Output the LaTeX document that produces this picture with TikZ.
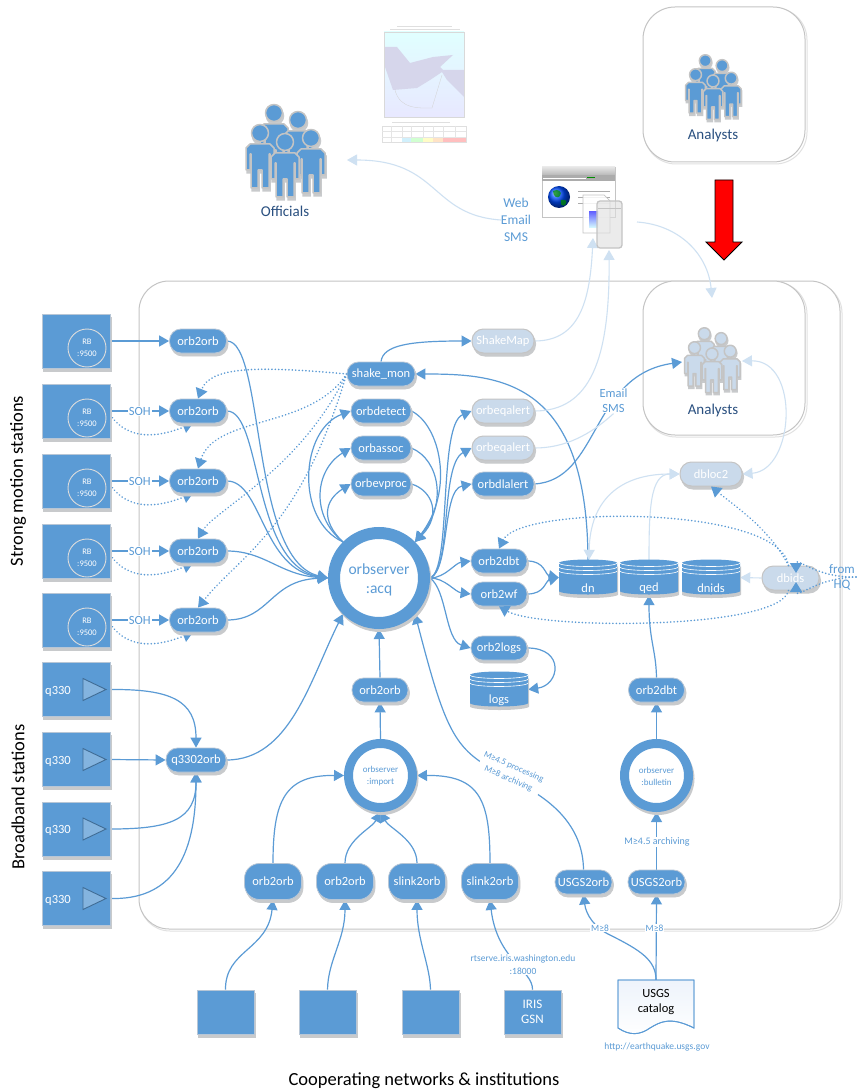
\documentclass[tikz,border=0pt]{standalone}
\usepackage{fontspec}
\setmainfont{Carlito}
\usetikzlibrary{arrows.meta,calc}
\definecolor{bl}{HTML}{5B9BD5}
\definecolor{ltfill}{HTML}{CADAEB}
\definecolor{ltedge}{HTML}{CFE1F2}
\definecolor{shc}{HTML}{C8CACC}
\definecolor{rim}{HTML}{B7C6D6}
\definecolor{boxl}{HTML}{C4C4C4}
\definecolor{navy}{HTML}{2A5080}
\newcommand\fz[2]{\fontsize{#1}{#2}\selectfont}
\pgfdeclarelayer{base}\pgfdeclarelayer{edges}
\pgfsetlayers{base,edges,main}
\tikzset{
  sh/.style={preaction={draw=shc,fill=shc,transform canvas={xshift=1.5pt,yshift=-3pt}}},
  pill/.style={rectangle,rounded corners=11.5pt,minimum height=24pt,inner sep=0pt,fill=bl,draw=rim,line width=.8pt,text=white,font=\fz{12.5}{15},sh,minimum width=#1},
  tallpill/.style={pill=#1,rounded corners=15pt,minimum height=36pt},
  ltpill/.style={pill=#1,fill=ltfill,draw=boxl,line width=1pt},
  stationbox/.style={rectangle,inner sep=0pt,fill=bl,draw=rim,line width=.6pt,sh,minimum width=#1,minimum height=54pt,text=white},
  rbcirc/.style={circle,inner sep=0pt,minimum size=38pt,fill=bl,draw=boxl!60!white,line width=.9pt,text=white,align=center,font=\fz{8.5}{11.5}},
  ring/.style={circle,inner sep=0pt,fill=white,draw=bl,line width=#1,sh},
  ringtext/.style={text=bl,inner sep=0pt,align=center},
  lk/.style={draw=bl,line width=1.2pt,-{Triangle[length=10pt,width=11pt]}},
  ltlk/.style={draw=ltedge,line width=1.1pt,-{Triangle[length=10pt,width=11pt]}},
  ltboth/.style={draw=ltedge,line width=1.1pt,{Triangle[length=10pt,width=11pt]}-{Triangle[length=10pt,width=11pt]}},
  ltplain/.style={draw=ltedge,line width=1.1pt},
  dotlk/.style={draw=bl,line width=1.7pt,line cap=round,dash pattern=on .1pt off 3.3pt,-{Triangle[length=10pt,width=12pt]}},
  bltext/.style={text=bl,inner sep=0pt,align=center,font=\fz{#1}{15}},
  wlabel/.style={fill=white,text=bl,inner sep=1pt,align=center,font=\fz{#1}{13}},
  big/.style={text=black,inner sep=0pt,font=\fz{18.5}{22}}
}
% a group of people
\newcommand\oneperson[2]{%
  \begin{scope}[shift={(#1,#2)}]
    \path[pfill,pdraw] (0,0) circle[radius=8.5pt];
    \path[pfill,pdraw] (-10,11) -- (10,11) -- (14,15) -- (14,37) -- (10,37) -- (10,21) -- (9,21) -- (9,55) -- (2,55) -- (2,37) -- (-2,37) -- (-2,55) -- (-9,55) -- (-9,21) -- (-10,21) -- (-10,37) -- (-14,37) -- (-14,15) -- cycle;
  \end{scope}}
\newcommand\crowd[5]{% x y scale fill rim
  \begin{scope}[shift={(#1,#2)},scale=#3,pfill/.style={fill=#4},pdraw/.style={draw=#5,line width=1.5pt,line join=round}]
    \begin{scope}[shift={(1,3)},pfill/.style={fill=shc},pdraw/.style={draw=shc,line width=1.5pt}]
      \oneperson{-11}{-29}\oneperson{13}{-22}\oneperson{-25}{-9}\oneperson{26}{-4}\oneperson{0}{0}
    \end{scope}
    \oneperson{-11}{-29}\oneperson{13}{-22}\oneperson{-25}{-9}\oneperson{26}{-4}\oneperson{0}{0}
  \end{scope}}
% database drum
\newcommand\drum[4]{% name x y text
  \begin{scope}[shift={(#2,#3)}]
    \fill[shc] (-29,-11) -- (-29,17) arc[start angle=180,end angle=360,x radius=29.5pt,y radius=3.5pt] -- (30,-11) -- cycle;
    \fill[bl] (-29,-14.5) -- (-29,13.5) arc[start angle=180,end angle=360,x radius=29pt,y radius=3.5pt] -- (29,-14.5) -- cycle;
    \fill[bl] (0,-14.5) ellipse[x radius=29pt,y radius=3.5pt];
    \foreach \d in {-14.5,-10.5,-6.5}
      \draw[white,line width=.6pt] (-29,\d) arc[start angle=180,end angle=360,x radius=29pt,y radius=3.5pt];
  \end{scope}
  \node[minimum width=58pt,minimum height=35pt,inner sep=0pt] (#1) at (#2,#3) {};
  \node[text=white,inner sep=0pt,font=\fz{12.5}{15}] (#1t) at (#2,#3+10.5) {#4};}
\begin{document}
\begin{tikzpicture}[x=1pt,y=-1pt]
\useasboundingbox (0,0) rectangle (856,1091);
\begin{pgfonlayer}{base}
  \fill[white] (0,0) rectangle (856,1091);
  % outer boxes
  \draw[boxl!50!white,line width=1pt,rounded corners=30pt] (140,283) rectangle (842,931);
  \draw[boxl,line width=1pt,fill=white,rounded corners=30pt] (139,281) rectangle (840,929);
  \draw[boxl!50!white,line width=1pt,rounded corners=32pt] (644,282) rectangle (807,437);
  \draw[boxl,line width=1pt,fill=white,rounded corners=32pt] (643,281) rectangle (805,435);
  \draw[boxl!50!white,line width=1pt,rounded corners=32pt] (644,8) rectangle (807,164);
  \draw[boxl,line width=1pt,fill=white,rounded corners=32pt] (643,7) rectangle (805,162);
  % map picture
  \shade[top color=cyan!12,bottom color=blue!9,draw=none] (384,32) rectangle (464,117);
  \fill[blue!35!gray!24] (385,47) -- (397,47) -- (410,63) -- (433,57) -- (453,55) -- (440,67) -- (443,70) -- (464,70) -- (464,97) -- (447,80) -- (442,72) -- (430,80) -- (417,88) -- (393,90) -- (385,67) -- cycle;
  \draw[gray!30,line width=.3pt] (384,32) rectangle (464,117);
  \draw[gray!35,line width=.3pt] (395,90) .. controls (400,110) and (420,108) .. (432,108) -- (442,75);
  \draw[gray!25,line width=.7pt] (397,26) -- (452,26);
  \draw[gray!25,line width=.7pt] (390,29) -- (460,29);
  \draw[gray!25,line width=.7pt] (392,122) -- (450,122);
  \draw[gray!25,line width=.3pt,fill=white] (382,126) rectangle (466,142);
  \foreach \v in {391,402,411,423,433,443,455} \draw[gray!20,line width=.3pt] (\v,126) -- (\v,142);
  \foreach \v in {131,137} \draw[gray!20,line width=.3pt] (382,\v) -- (466,\v);
  \fill[cyan!18] (402,138) rectangle (411,142);
  \fill[green!18] (411,138) rectangle (423,142);
  \fill[yellow!22] (423,138) rectangle (433,142);
  \fill[orange!22] (433,138) rectangle (443,142);
  \fill[red!25] (443,138) rectangle (466,142);
\end{pgfonlayer}

% people
\crowd{285}{142}{1}{bl}{boxl}
\node[text=navy,inner sep=0pt,font=\fz{15}{18}] (officials) at (285,211) {Officials};
\crowd{713}{81}{.7}{bl}{boxl}
\node[text=navy,inner sep=0pt,font=\fz{15}{18}] (analystsA) at (713,136) {Analysts};
\crowd{712}{354}{.7}{ltfill}{boxl}
\node[text=navy,inner sep=0pt,font=\fz{15}{18}] (analystsB) at (713,410) {Analysts};
\coordinate (offArrow) at (347,160);
\coordinate (anaIn) at (682,362);
\coordinate (anaOut) at (742,361);
\coordinate (anaTop) at (712,298);

% red arrow
\draw[black,fill=red,line width=.9pt,line join=miter] (715,180) -- (733,180) -- (733,242) -- (742,242) -- (724,260) -- (706,242) -- (715,242) -- cycle;

% web / docs icon
\node[minimum width=73pt,minimum height=50pt,inner sep=0pt] (browser) at (578.5,192) {};
\draw[boxl,line width=.8pt,fill=white] (542,167) rectangle (615,217);
\shade[top color=gray!20,bottom color=gray!55] (542,167) rectangle (615,175);
\fill[gray!65] (542,175) rectangle (615,181);
\draw[white,line width=.5pt] (543,178) -- (586,178);
\draw[green!55!black,line width=.7pt] (587,177.5) -- (595,177.5);
\shade[ball color=blue!70!cyan] (559,197) circle[radius=11pt];
\fill[green!55!black,opacity=.75] (553,191) .. controls (558,188) and (563,192) .. (560,196) .. controls (558,199) and (553,197) .. cycle;
\fill[green!55!black,opacity=.75] (561,200) .. controls (566,199) and (568,201) .. (565,205) .. controls (562,207) and (560,204) .. cycle;
\foreach \v in {191,197,203} \draw[gray!65,line width=.8pt] (578,\v) -- (610,\v);
\draw[boxl,line width=.7pt,fill=white,fill opacity=.85] (583,195) -- (604,195) -- (610,201) -- (610,233) -- (583,233) -- cycle;
\shade[top color=blue!60,bottom color=cyan!15] (589,212) rectangle (598,228);
\draw[boxl,line width=1.3pt,fill=gray!25,fill opacity=.6,rounded corners=3pt] (597,201) rectangle (622,248);
\draw[boxl,line width=.5pt] (598,208) -- (621,208);
\coordinate (docA) at (593,238);
\coordinate (docB) at (609,250);
\coordinate (docOut) at (637,222);
\node[bltext=13.5,font=\fz{13.5}{17}] (web) at (516,220) {Web\\Email\\SMS};

% strong motion stations
\foreach \n/\y in {1/341,2/411,3/481,4/551,5/620}{
  \node[stationbox=68pt] (s\n) at (76,\y) {};
  \node[rbcirc] (c\n) at (87,\y+7) {RB\\:9500};
  \node[pill=57pt] (o\n) at (198,\y) {orb2orb};
}
% broadband stations
\foreach \n/\y in {1/689.5,2/759.5,3/829,4/898.5}{
  \node[stationbox=68pt] (q\n) at (76,\y) {};
  \node[text=white,inner sep=0pt,font=\fz{12.5}{15}] (qt\n) at (58,\y+1.5) {q330};
  \draw[fill=bl!75!white,draw=bl!70!black,line width=.9pt] (83,\y-11) -- (106,\y) -- (83,\y+11) -- cycle;
}
\node[pill=60pt] (qn) at (196,760) {q3302orb};

% central column
\node[pill=68pt] (shake) at (381,374) {shake\_mon};
\node[pill=60pt] (detect) at (381,411) {orbdetect};
\node[pill=60pt] (assoc) at (381,448) {orbassoc};
\node[pill=60pt] (evproc) at (381,484) {orbevproc};
\node[ring=12pt,minimum size=90pt] (acq) at (379,578) {};
\node[ringtext,font=\fz{15.5}{19}] (acqt) at (379,580) {orbserver\\:acq};
\node[ltpill=62pt] (smap) at (503,341) {ShakeMap};
\node[ltpill=62pt] (eq1) at (503,411) {orbeqalert};
\node[ltpill=62pt] (eq2) at (503,448) {orbeqalert};
\node[pill=62pt] (dla) at (503,484) {orbdlalert};
\node[pill=56pt] (dbt) at (499,561) {orb2dbt};
\node[pill=56pt] (wf) at (499,594) {orb2wf};
\node[pill=56pt] (logsp) at (499,648) {orb2logs};
\drum{logsd}{499}{689.5}{logs}
\drum{dn}{588}{577.5}{dn}
\drum{qed}{649}{577.5}{qed}
\drum{dnids}{711}{577.5}{dnids}
\node[ltpill=62pt] (dbloc) at (711,474) {dbloc2};
\node[ltpill=57pt] (dbids) at (790.5,578) {dbids};
\node[bltext=13] (hq) at (842,577.5) {from\\HQ};
\coordinate (hqEnd) at (856,577);
\node[bltext=12.5,fill=white,inner sep=1pt] (email) at (613.5,400.5) {Email\\SMS};

% lower part
\node[pill=56pt] (imp2) at (380,690) {orb2orb};
\node[ring=9pt,minimum size=64pt] (imp) at (380.5,775.5) {};
\node[ringtext,font=\fz{9}{12}] (impt) at (380.5,776.5) {orbserver\\:import};
\node[tallpill=57pt] (b1) at (273,881.5) {orb2orb};
\node[tallpill=57pt] (b2) at (345,881.5) {orb2orb};
\node[tallpill=57pt] (b3) at (417,881.5) {slink2orb};
\node[tallpill=57pt] (b4) at (490,881.5) {slink2orb};
\node[pill=57pt] (u1) at (583.5,882) {USGS2orb};
\node[pill=57pt] (u2) at (656.5,882) {USGS2orb};
\node[ring=9pt,minimum size=64pt] (bul) at (656.5,775.5) {};
\node[ringtext,font=\fz{9}{12}] (bult) at (656.5,776.5) {orbserver\\:bulletin};
\node[pill=56pt] (dbt2) at (656.5,690) {orb2dbt};
\node[stationbox=57pt,minimum height=44pt] (n1) at (225.5,1012) {};
\node[stationbox=57pt,minimum height=44pt] (n2) at (327.5,1012) {};
\node[stationbox=57pt,minimum height=44pt] (n3) at (430.5,1012) {};
\node[stationbox=57pt,minimum height=44pt,align=center,font=\fz{13}{15}] (n4) at (532.5,1012) {IRIS\\GSN};
\node[minimum width=76pt,minimum height=44pt,inner sep=0pt] (cat) at (656,1002) {};
\shade[top color=blue!12!bl!10,bottom color=white,draw=bl,line width=.9pt]
  (618,980) -- (694,980) -- (694,1028) .. controls (670,1016) and (660,1022) .. (650,1028) .. controls (640,1035) and (630,1036) .. (618,1028) -- cycle;
\draw[bl,line width=.9pt] (618,980) -- (694,980) -- (694,1028) .. controls (670,1016) and (660,1022) .. (650,1028) .. controls (640,1035) and (630,1036) .. (618,1028) -- cycle;
\node[text=black,inner sep=0pt,align=center,font=\fz{12.5}{14.5}] (catt) at (656,1002) {USGS\\catalog};
\node[bltext=9.5] (url) at (657,1047) {http://earthquake.usgs.gov};

% labels that sit on connectors
\node[wlabel=9,rotate=-24] (proc) at (511,773) {M≥4.5 processing\\M≥8 archiving};
\node[wlabel=9.5] (rt) at (523,964.5) {rtserve.iris.washington.edu\\:18000};
\node[wlabel=9.5] (m1) at (600,928) {M≥8};
\node[wlabel=9.5] (m2) at (654.5,928) {M≥8};
\node[wlabel=10] (m3) at (657,842) {M≥4.5 archiving};

% side and bottom titles
\node[big,rotate=90] (strong) at (18,481) {Strong motion stations};
\node[big,rotate=90] (broad) at (18,797) {Broadband stations};
\node[big] (coop) at (424,1081) {Cooperating networks \& institutions};

\begin{pgfonlayer}{edges}
% stations to orb2orb
\draw[lk] (s1.east) -- (o1.west);
\foreach \n in {2,3,4,5}{
  \draw[lk] (s\n.east) -- node[fill=white,text=bl,inner sep=1pt,font=\fz{12.5}{15}] {SOH} (o\n.west);
  \draw[dotlk] ([yshift=-4pt]s\n.east) .. controls +(18,26) and +(-35,14) .. ([xshift=-5pt]o\n.south);
}
% orb2orb to acq
\draw[lk] (o1.east) .. controls (265,341) and (250,560) .. (acq.west);
\draw[lk] (o2.east) .. controls (262,411) and (252,565) .. (acq.west);
\draw[lk] (o3.east) .. controls (262,481) and (262,570) .. (acq.west);
\draw[lk] (o4.east) .. controls (265,551) and (280,575) .. (acq.west);
\draw[lk] (o5.east) .. controls (270,620) and (270,580) .. (acq.west);
% dotted shake_mon
\draw[dotlk] (shake.west) .. controls (250,365) and (210,368) .. (o2.north);
\draw[dotlk] (shake.west) .. controls (310,430) and (215,415) .. (o3.north);
\draw[dotlk] (shake.west) .. controls (300,470) and (215,510) .. (o4.north);
\draw[dotlk] (shake.west) .. controls (300,530) and (240,555) .. (o5.north);
% shake, detect group
\draw[lk] (shake.north) .. controls (383,345) and (410,341) .. (smap.west);
\draw[lk] (acq.135) .. controls (295,520) and (300,430) .. (detect.west);
\draw[lk] (acq.135) .. controls (310,515) and (315,470) .. (assoc.west);
\draw[lk] (acq.135) .. controls (320,520) and (325,500) .. (evproc.west);
\draw[lk] (detect.east) .. controls (440,425) and (455,490) .. (acq.45);
\draw[lk] (assoc.east) .. controls (440,460) and (447,505) .. (acq.45);
\draw[lk] (evproc.east) .. controls (432,490) and (442,515) .. (acq.45);
% acq to the right
\draw[lk] (acq.east) .. controls (452,570) and (438,425) .. (eq1.west);
\draw[lk] (acq.east) .. controls (452,570) and (440,465) .. (eq2.west);
\draw[lk] (acq.east) .. controls (450,570) and (442,490) .. (dla.west);
\draw[lk] (acq.east) .. controls (445,578) and (455,563) .. (dbt.west);
\draw[lk] (acq.east) .. controls (445,578) and (455,592) .. (wf.west);
\draw[lk] (acq.east) .. controls (447,590) and (445,640) .. (logsp.west);
\draw[lk] (dbt.east) .. controls (545,561) and (545,575) .. (dn.west);
\draw[lk] (wf.east) .. controls (545,594) and (545,581) .. (dn.west);
\draw[lk] (logsp.east) .. controls (565,648) and (560,685) .. (logsd.east);
\draw[lk] (dn.north) .. controls (587,380) and (500,374) .. (shake.east);
\draw[lk] (dla.east) .. controls (600,480) and (590,375) .. (anaIn);
% light connectors
\draw[ltlk] (smap.east) .. controls (580,341) and (590,300) .. (docA);
\draw[ltlk] (eq1.east) .. controls (590,411) and (610,360) .. (docB);
\draw[ltplain] (eq2.east) .. controls (565,448) and (590,435) .. (email.south);
\draw[ltlk] (web.west) .. controls (430,215) and (440,160) .. (offArrow);
\draw[ltlk] (docOut) .. controls (680,225) and (708,255) .. (anaTop);
\draw[ltboth] ([xshift=1pt]dn.north) .. controls (590,500) and (620,474) .. (dbloc.west);
\draw[ltlk] (qed.north) .. controls (649,510) and (650,474) .. (dbloc.west);
\draw[ltboth] (anaOut) .. controls (800,360) and (795,470) .. (dbloc.east);
\draw[ltlk] (dbids.west) -- (dnids.east);
% lower left
\draw[lk] (q1.east) .. controls (170,689) and (196,700) .. (qn.north);
\draw[lk] (q2.east) -- (qn.west);
\draw[lk] (q3.east) .. controls (170,829) and (196,820) .. (qn.south);
\draw[lk] (q4.east) .. controls (170,900) and (196,860) .. (qn.south);
\draw[lk] (qn.east) .. controls (290,760) and (310,680) .. (acq.225);
\draw[lk] (imp2.north) -- (acq.south);
\draw[lk] (imp.north) -- (imp2.south);
\draw[lk] (b1.north) .. controls (273,800) and (285,775) .. (imp.west);
\draw[lk] (b2.north) .. controls (345,840) and (372,828) .. (imp.south);
\draw[lk] (b3.north) .. controls (417,840) and (389,828) .. (imp.south);
\draw[lk] (b4.north) .. controls (490,800) and (480,775) .. (imp.east);
\draw[lk] (n1.north) .. controls (225,950) and (268,950) .. (b1.south);
\draw[lk] (n2.north) .. controls (328,960) and (345,940) .. (b2.south);
\draw[lk] (n3.north) .. controls (430,965) and (417,940) .. (b3.south);
\draw[lk] (n4.north) .. controls (533,970) and (497,960) .. (b4.south);
% USGS
\draw[lk] (u1.north) .. controls (583,825) and (550,800) .. (522,785) .. controls (500,772) and (490,770) .. (478,760) .. controls (450,740) and (440,710) .. (acq.315);
\draw[lk] (cat.north) .. controls (656,960) and (640,950) .. (610,935) .. controls (595,928) and (586,915) .. (u1.south);
\draw[lk] (cat.north) -- (u2.south);
\draw[lk] (u2.north) -- (bul.south);
\draw[lk] (bul.north) -- (dbt2.south);
\draw[lk] (dbt2.north) .. controls (656,650) and (649,640) .. (qed.south);
\end{pgfonlayer}

% dotted connectors over the dbids pill
\draw[dotlk] ([xshift=-2pt]dbids.north) .. controls (770,530) and (740,510) .. (dbloc.south);
\draw[dotlk] ([xshift=-2pt]dbids.north) .. controls (780,505) and (520,505) .. (dbt.north);
\draw[dotlk] ([xshift=-2pt]dbids.south) .. controls (780,630) and (540,630) .. (wf.south);
\draw[dotlk] (hqEnd) .. controls (815,578) and (796,556) .. ([xshift=5.5pt,yshift=5pt]dbids.center);
\draw[dotlk] (hqEnd) .. controls (815,578) and (796,600) .. ([xshift=5.5pt,yshift=-4pt]dbids.center);
\end{tikzpicture}
\end{document}
